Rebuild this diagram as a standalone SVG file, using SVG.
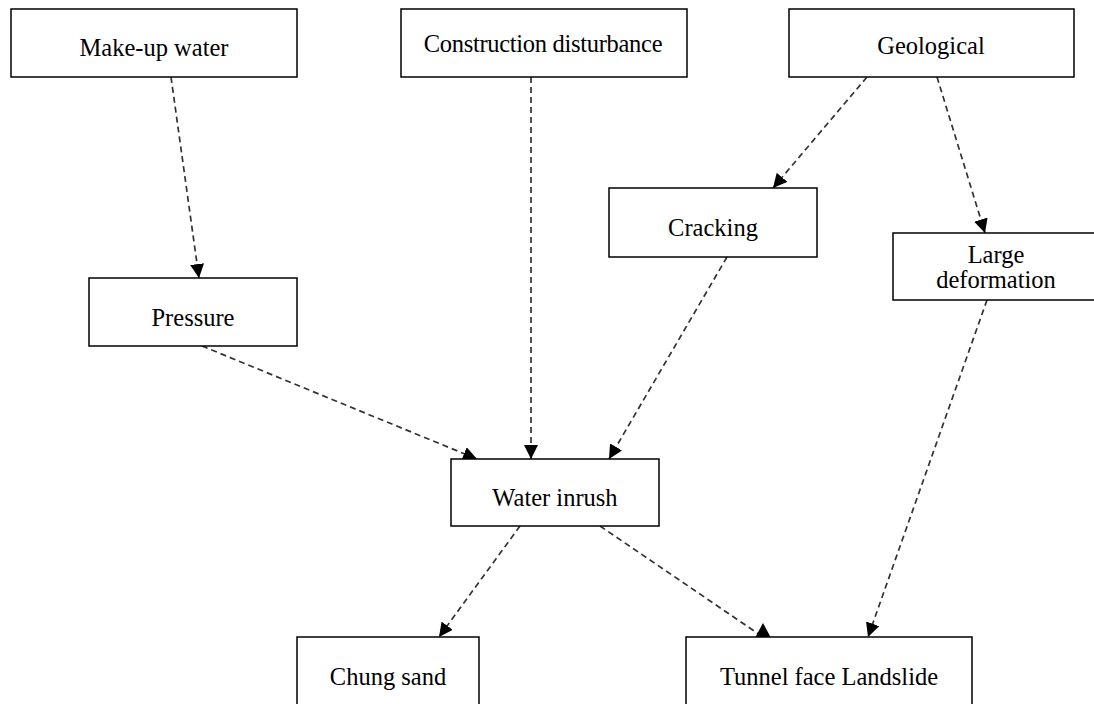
<svg xmlns="http://www.w3.org/2000/svg" width="1094" height="704" viewBox="0 0 1094 704">
<style>
.box{fill:#fff;stroke:#000;stroke-width:1.5}
.t{font-family:'Liberation Serif','DejaVu Serif','Times New Roman',serif;font-size:24.5px;fill:#000;text-anchor:middle}
.c{fill:none;stroke:#333;stroke-width:1.7;stroke-dasharray:6 4}
</style>
<defs>
<marker id="ah" viewBox="0 0 14 14" refX="14" refY="7" markerWidth="14" markerHeight="14" markerUnits="userSpaceOnUse" orient="auto">
<path d="M0,0 L14,7 L0,14 Z" fill="#000"/>
</marker>
<marker id="up" viewBox="0 0 15 15" refX="7.5" refY="15" markerWidth="15" markerHeight="15" markerUnits="userSpaceOnUse" orient="0">
<path d="M0,15 L7.5,1 L15,15 Z" fill="#000"/>
</marker>
</defs>
<rect width="1094" height="704" fill="#fff"/>
<g id="connectors">
<line class="c" x1="171" y1="77" x2="199" y2="278" marker-end="url(#ah)"/>
<line class="c" x1="531" y1="77" x2="531" y2="459" marker-end="url(#ah)"/>
<line class="c" x1="867" y1="77" x2="773" y2="188" marker-end="url(#ah)"/>
<line class="c" x1="937" y1="77" x2="985" y2="233" marker-end="url(#ah)"/>
<line class="c" x1="727" y1="257" x2="609" y2="459" marker-end="url(#ah)"/>
<line class="c" x1="202" y1="346" x2="477" y2="459" marker-end="url(#ah)"/>
<line class="c" x1="987" y1="300" x2="868" y2="637" marker-end="url(#ah)"/>
<line class="c" x1="520" y1="526" x2="439" y2="637" marker-end="url(#ah)"/>
<line class="c" x1="600" y1="526" x2="763" y2="637" marker-end="url(#up)"/>
</g>
<g id="makeup">
<rect class="box" x="11" y="9" width="286" height="68"/>
<text class="t" x="154" y="56">Make-up water</text>
</g>
<g id="construction">
<rect class="box" x="401" y="9" width="286" height="68"/>
<text class="t" x="543" y="52" letter-spacing="-0.3">Construction disturbance</text>
</g>
<g id="geological">
<rect class="box" x="789" y="9" width="285" height="68"/>
<text class="t" x="931" y="54">Geological</text>
</g>
<g id="cracking">
<rect class="box" x="609" y="188" width="208" height="69"/>
<text class="t" x="713" y="236">Cracking</text>
</g>
<g id="largedef">
<rect class="box" x="893" y="233" width="208" height="67"/>
<text class="t" x="996" y="263" font-size="21.5">Large</text>
<text class="t" x="996" y="288" font-size="21.5">deformation</text>
</g>
<g id="pressure">
<rect class="box" x="89" y="278" width="208" height="68"/>
<text class="t" x="193" y="326">Pressure</text>
</g>
<g id="waterinrush">
<rect class="box" x="451" y="459" width="208" height="67"/>
<text class="t" x="555" y="506">Water inrush</text>
</g>
<g id="chungsand">
<rect class="box" x="297" y="637" width="182" height="80"/>
<text class="t" x="388" y="685">Chung sand</text>
</g>
<g id="tunnel">
<rect class="box" x="686" y="637" width="286" height="80"/>
<text class="t" x="829" y="685">Tunnel face Landslide</text>
</g>
</svg>
